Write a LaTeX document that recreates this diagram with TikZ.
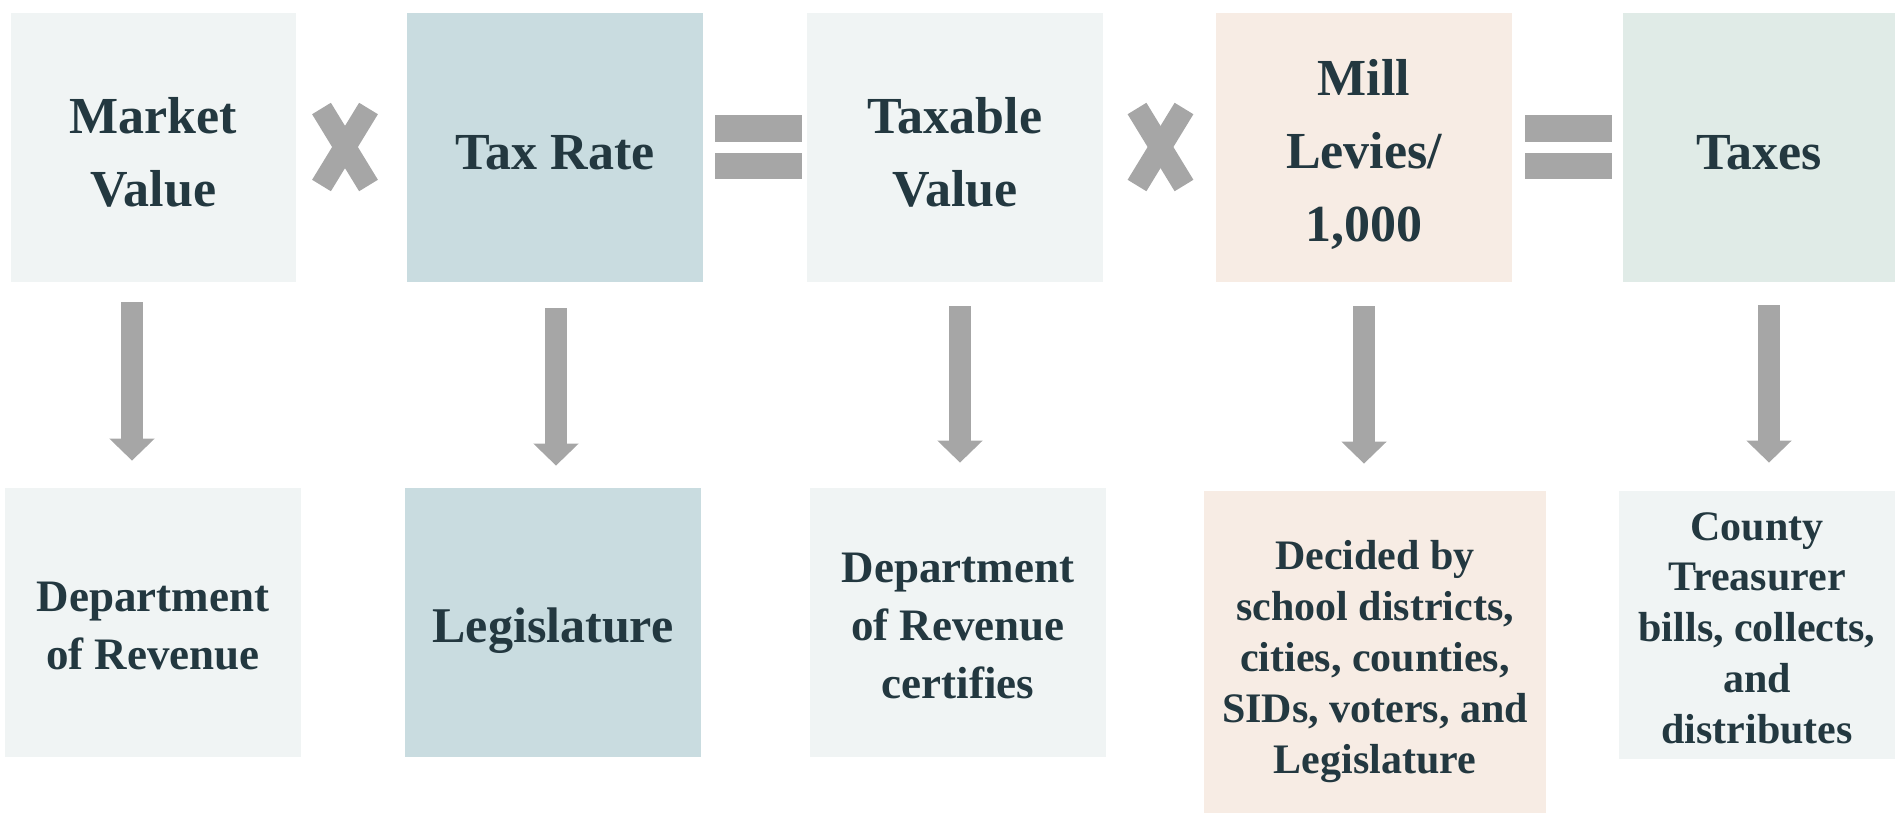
\documentclass[tikz,border=0pt]{standalone}
\usepackage{fontspec}
\setmainfont{Liberation Serif}
\usetikzlibrary{arrows.meta}
\definecolor{ink}{HTML}{233840}
\definecolor{pale}{HTML}{F0F4F4}
\definecolor{steel}{HTML}{C9DCE0}
\definecolor{sand}{HTML}{F7ECE4}
\definecolor{sage}{HTML}{E0EBE7}
\definecolor{sym}{HTML}{A6A6A6}
\tikzset{
  tile/.style={inner sep=0pt, minimum width=148pt, minimum height=134.5pt},
  txt/.style={align=center, text=ink, inner sep=0pt},
  big/.style={txt, font=\fontsize{26}{36.3}\selectfont\bfseries, yshift=-2.5pt},
  mid/.style={txt, font=\fontsize{22.5}{29}\selectfont\bfseries, yshift=-1.8pt},
  small/.style={txt, font=\fontsize{21}{25.4}\selectfont\bfseries},
  down/.style={draw=sym, line width=11pt, -{Triangle[width=22pt,length=11pt]}},
  bar/.style={draw=sym, line width=11pt},
}

\begin{document}
\begin{tikzpicture}[x=0.5pt,y=-0.5pt]
  \useasboundingbox (0,0) rectangle (1895,815);
  % the formula
  \node[tile, fill=pale, minimum width=142.5pt, label={[big]center:{Market\\Value}}] (mv) at (153.5,147.5) {};
  \node[tile, fill=steel, label={[big]center:Tax Rate}] (tr) at (555,147.5) {};
  \node[tile, fill=pale, label={[big]center:{Taxable\\Value}}] (tv) at (955,147.5) {};
  \node[tile, fill=sand, label={[big, yshift=-1pt]center:{Mill\\Levies/\\1,000}}] (ml) at (1364,147.5) {};
  \node[tile, fill=sage, minimum width=136pt, label={[big]center:Taxes}] (tx) at (1759,147.5) {};
  % who sets each part
  \node[tile, fill=pale, label={[mid]center:{Department\\of Revenue}}] (d1) at (153,622.5) {};
  \node[tile, fill=steel, label={[mid, font=\fontsize{25}{30}\selectfont\bfseries, yshift=-2.4pt]center:Legislature}] (d2) at (553,622.5) {};
  \node[tile, fill=pale, label={[mid]center:{Department\\of Revenue\\certifies}}] (d3) at (958,622.5) {};
  \node[tile, fill=sand, minimum width=171pt, minimum height=161pt,
    label={[small, yshift=-4.8pt]center:{Decided by\\school districts,\\cities, counties,\\SIDs, voters, and\\Legislature}}] (d4) at (1375,652) {};
  \node[tile, fill=pale, minimum width=138pt, minimum height=134pt,
    label={[small, yshift=-1.5pt]center:{County\\Treasurer\\bills, collects,\\and\\distributes}}] (d5) at (1757,625) {};
  % times signs
  \foreach \cx in {345,1160.5} {
    \draw[bar] (\cx-23.5,108.5) -- (\cx+23.5,185.5);
    \draw[bar] (\cx+23.5,108.5) -- (\cx-23.5,185.5);
  }
  % equals signs
  \foreach \cx in {758.5,1568} {
    \fill[sym] (\cx-43.5,115) rectangle (\cx+43.5,142);
    \fill[sym] (\cx-43.5,153) rectangle (\cx+43.5,179);
  }
  % down arrows
  \draw[down, shorten <=10pt, shorten >=13.5pt] ([xshift=-10.75pt]mv.south) -- ([xshift=-10.5pt]d1.north);
  \draw[down, shorten <=13pt, shorten >=11pt] ([xshift=0.5pt]tr.south) -- ([xshift=1.5pt]d2.north);
  \draw[down, shorten <=12pt, shorten >=12.5pt] ([xshift=2.5pt]tv.south) -- ([xshift=1pt]d3.north);
  \draw[down, shorten <=12pt, shorten >=13.5pt] (ml.south) -- ([xshift=-5.5pt]d4.north);
  \draw[down, shorten <=11.5pt, shorten >=14pt] ([xshift=5pt]tx.south) -- ([xshift=6pt]d5.north);
\end{tikzpicture}
\end{document}
